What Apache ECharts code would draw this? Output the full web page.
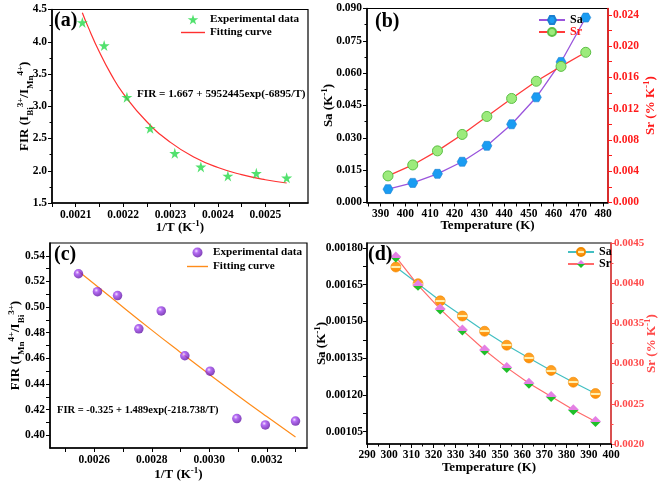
<!DOCTYPE html>
<html>
<head>
<meta charset="utf-8">
<script src="https://cdn.jsdelivr.net/npm/echarts@6/dist/echarts.min.js"></script>
<style>html,body{margin:0;padding:0;background:#fff}#c{width:661px;height:485px}</style>
</head>
<body>
<div id="c"></div>
<script>
// ---- Panel (a) data ----
const aX = [0.002114, 0.002160, 0.002208, 0.002257, 0.002309, 0.002364, 0.002421, 0.002481, 0.002545];
const aY = [4.30, 3.94, 3.14, 2.66, 2.27, 2.06, 1.92, 1.96, 1.89];
const aFitX = [0.002114, 0.002125, 0.00215, 0.002175, 0.0022, 0.00225, 0.0023, 0.00235, 0.0024, 0.00245, 0.0025, 0.002545];
const aFitY = [4.45, 4.25, 3.84, 3.49, 3.20, 2.76, 2.44, 2.21, 2.05, 1.94, 1.86, 1.81];
const aXTicks = [0.00205, 0.0021, 0.00215, 0.0022, 0.00225, 0.0023, 0.00235, 0.0024, 0.00245, 0.0025, 0.00255];
const aXLabels = [0.0021, 0.0022, 0.0023, 0.0024, 0.0025];
// ---- Panel (b) data ----
const bT = [393, 403, 413, 423, 433, 443, 453, 463, 473];
const bSa = [0.0062, 0.0091, 0.0133, 0.0189, 0.0263, 0.0363, 0.0488, 0.0652, 0.0858];
const bSr = [0.0034, 0.0048, 0.0066, 0.0087, 0.0110, 0.0133, 0.0155, 0.0174, 0.0192];
const bXTicks = [385, 390, 395, 400, 405, 410, 415, 420, 425, 430, 435, 440, 445, 450, 455, 460, 465, 470, 475, 480];
const bXLabels = [390, 400, 410, 420, 430, 440, 450, 460, 470, 480];
const bSrTicks = [0, 0.002, 0.004, 0.006, 0.008, 0.010, 0.012, 0.014, 0.016, 0.018, 0.020, 0.022, 0.024];
const bSrLabels = [0, 0.004, 0.008, 0.012, 0.016, 0.020, 0.024];
// ---- Panel (c) data ----
const cX = [0.002545, 0.002611, 0.002681, 0.002755, 0.002833, 0.002915, 0.003003, 0.003096, 0.003195, 0.0033];
const cY = [0.526, 0.512, 0.509, 0.483, 0.497, 0.462, 0.450, 0.413, 0.408, 0.411];
const cFitX = [0.002545, 0.00265, 0.0028, 0.0029, 0.003, 0.0031, 0.0032, 0.0033];
const cFitY = [0.528, 0.509, 0.482, 0.4646, 0.4475, 0.4308, 0.4145, 0.3985];
const cXTicks = [0.0025, 0.0026, 0.0027, 0.0028, 0.0029, 0.0030, 0.0031, 0.0032, 0.0033];
const cXLabels = [0.0026, 0.0028, 0.0030, 0.0032];
const cYTicks = [0.40, 0.41, 0.42, 0.43, 0.44, 0.45, 0.46, 0.47, 0.48, 0.49, 0.50, 0.51, 0.52, 0.53, 0.54];
const cYLabels = [0.40, 0.42, 0.44, 0.46, 0.48, 0.50, 0.52, 0.54];
// ---- Panel (d) data ----
const dT = [303, 313, 323, 333, 343, 353, 363, 373, 383, 393];
const dSa = [0.001722, 0.001654, 0.001584, 0.001522, 0.001460, 0.001403, 0.001351, 0.001300, 0.001252, 0.001206];
const dSr = [0.004326, 0.003975, 0.003678, 0.003417, 0.003169, 0.002950, 0.002756, 0.002591, 0.002426, 0.002281];
const dSaTicks = [0.00105, 0.001125, 0.0012, 0.001275, 0.00135, 0.001425, 0.0015, 0.001575, 0.00165, 0.001725, 0.0018];
const dSaLabels = [0.00105, 0.0012, 0.00135, 0.0015, 0.00165, 0.0018];

const FONT = '"Liberation Serif", "Times New Roman", serif';
const pair = (xs, ys) => xs.map((x, i) => [x, ys[i]]);

const titleRich = (color) => ({
  t: {fontFamily: FONT, fontWeight: 'bold', fontSize: 13, color: color, lineHeight: 20, verticalAlign: 'middle'},
  sup: {fontFamily: FONT, fontWeight: 'bold', fontSize: 9, color: color, lineHeight: 20, verticalAlign: 'top', padding: [1, 0, 0, 0]},
  sub: {fontFamily: FONT, fontWeight: 'bold', fontSize: 9, color: color, lineHeight: 20, verticalAlign: 'bottom'}
});

function axisBase(color) {
  return {
    axisLine: {show: true, onZero: false, lineStyle: {color: color, width: 1.5}},
    axisTick: {show: true, inside: false, length: 4, lineStyle: {color: color, width: 1}},
    axisLabel: {color: color, fontFamily: FONT, fontWeight: 'bold', fontSize: 11.5, margin: 5},
    splitLine: {show: false},
    nameMoveOverlap: false,
    nameTextStyle: {rich: titleRich(color)}
  };
}
function mk(base, extra) {
  const o = JSON.parse(JSON.stringify(base));
  for (const k in extra) {
    if (o[k] && typeof o[k] === 'object' && !Array.isArray(o[k]) && typeof extra[k] === 'object' && !Array.isArray(extra[k])) {
      o[k] = Object.assign(o[k], extra[k]);
    } else o[k] = extra[k];
  }
  return o;
}
const fmt = (d) => (v) => Number(v).toFixed(d);

const star = 'path://M50,0 L61,35 L98,35 L68,57 L79,91 L50,70 L21,91 L32,57 L2,35 L39,35 Z';
const hexagon = 'path://M25,0 L75,0 L100,43 L75,86 L25,86 L0,43 Z';
const lineIcon = 'path://M0,0 L0,0 M0,4.3 L24,4.3 L24,5.7 L0,5.7 Z M0,10 L0,10';
const lineIconC = 'path://M0,0 L0,0 M0,4.3 L21,4.3 L21,5.7 L0,5.7 Z M0,10 L0,10';

const sphere = {type: 'radial', x: 0.38, y: 0.35, r: 0.7, colorStops: [
  {offset: 0, color: '#f3dcff'}, {offset: 0.3, color: '#a348f2'}, {offset: 1, color: '#5b0f9e'}]};
const orangeBand = {type: 'linear', x: 0, y: 0, x2: 0, y2: 1, colorStops: [
  {offset: 0, color: '#ff9a1a'}, {offset: 0.42, color: '#ffa52a'}, {offset: 0.42, color: '#fff0b0'},
  {offset: 0.6, color: '#fff0b0'}, {offset: 0.6, color: '#ff9a1a'}, {offset: 1, color: '#ff8c00'}]};
const pinkGreen = {type: 'linear', x: 0, y: 0, x2: 0, y2: 1, colorStops: [
  {offset: 0, color: '#e480e4'}, {offset: 0.55, color: '#e480e4'}, {offset: 0.55, color: '#1fbf2a'}, {offset: 1, color: '#1fbf2a'}]};

const K = '#000';
const RED = '#ff1a1a';
const RED2 = '#ff4a4a';

const grids = [
  {left: 52, top: 9.5, width: 256, height: 193.5},
  {left: 367, top: 8.5, width: 241, height: 194},
  {left: 50, top: 243, width: 257, height: 205},
  {left: 367, top: 243, width: 244, height: 201}
].map(g => Object.assign(g, {show: true, borderColor: '#000', borderWidth: 1.2, backgroundColor: 'transparent',
  containLabel: false, outerBoundsMode: 'none'}));

const xAxes = [
  mk(axisBase(K), {type: 'value', gridIndex: 0, min: 0.00205, max: 0.00259,
    axisTick: {show: true, length: 4, customValues: aXTicks, lineStyle: {color: K}},
    axisLabel: {color: K, fontFamily: FONT, fontWeight: 'bold', fontSize: 11.5, margin: 6, customValues: aXLabels, formatter: fmt(4)},
    name: '{t|1/T (K}{sup|-1}{t|)}', nameLocation: 'middle', nameGap: 15}),
  mk(axisBase(K), {type: 'value', gridIndex: 1, min: 384.5, max: 482,
    axisTick: {show: true, length: 4, customValues: bXTicks, lineStyle: {color: K}},
    axisLabel: {color: K, fontFamily: FONT, fontWeight: 'bold', fontSize: 11.5, margin: 6, customValues: bXLabels},
    name: '{t|Temperature (K)}', nameLocation: 'middle', nameGap: 13.5}),
  mk(axisBase(K), {type: 'value', gridIndex: 2, min: 0.002446, max: 0.00334,
    axisTick: {show: true, length: 4, customValues: cXTicks, lineStyle: {color: K}},
    axisLabel: {color: K, fontFamily: FONT, fontWeight: 'bold', fontSize: 11.5, margin: 6, customValues: cXLabels, formatter: fmt(4)},
    name: '{t|1/T (K}{sup|-1}{t|)}', nameLocation: 'middle', nameGap: 17}),
  mk(axisBase(K), {type: 'value', gridIndex: 3, min: 290, max: 400, interval: 10,
    minorTick: {show: true, splitNumber: 2, length: 2.5, lineStyle: {color: K}},
    name: '{t|Temperature (K)}', nameLocation: 'middle', nameGap: 14})
];

const yAxes = [
  mk(axisBase(K), {type: 'value', gridIndex: 0, min: 1.5, max: 4.5, interval: 0.5,
    minorTick: {show: true, splitNumber: 2, length: 2.5, lineStyle: {color: K}},
    axisLabel: {color: K, fontFamily: FONT, fontWeight: 'bold', fontSize: 11.5, margin: 5, formatter: fmt(1)},
    name: '{t|FIR (I}{sub|Bi}{sup|3+}{t|/I}{sub|Mn}{sup|4+}{t|)}', nameLocation: 'middle', nameRotate: 90, nameGap: 17}),
  mk(axisBase(K), {type: 'value', gridIndex: 1, min: 0, max: 0.09, interval: 0.015,
    minorTick: {show: true, splitNumber: 2, length: 2.5, lineStyle: {color: K}},
    axisLabel: {color: K, fontFamily: FONT, fontWeight: 'bold', fontSize: 11.5, margin: 5, formatter: fmt(3)},
    name: '{t|Sa (K}{sup|-1}{t|)}', nameLocation: 'middle', nameRotate: 90, nameGap: 28}),
  mk(axisBase(RED), {type: 'value', gridIndex: 1, position: 'right', min: 0, max: 0.0248,
    axisTick: {show: true, length: 4, customValues: bSrTicks, lineStyle: {color: RED}},
    axisLabel: {color: RED, fontFamily: FONT, fontWeight: 'bold', fontSize: 11.5, margin: 5, customValues: bSrLabels, formatter: fmt(3)},
    name: '{t|Sr (% K}{sup|-1}{t|)}', nameLocation: 'middle', nameRotate: 90, nameGap: 33}),
  mk(axisBase(K), {type: 'value', gridIndex: 2, min: 0.39, max: 0.55,
    axisTick: {show: true, length: 4, customValues: cYTicks, lineStyle: {color: K}},
    axisLabel: {color: K, fontFamily: FONT, fontWeight: 'bold', fontSize: 11.5, margin: 5, customValues: cYLabels, formatter: fmt(2)},
    name: '{t|FIR (I}{sub|Mn}{sup|4+}{t|/I}{sub|Bi}{sup|3+}{t|)}', nameLocation: 'middle', nameRotate: 90, nameGap: 24}),
  mk(axisBase(K), {type: 'value', gridIndex: 3, min: 0.001, max: 0.00182,
    axisTick: {show: true, length: 4, customValues: dSaTicks, lineStyle: {color: K}},
    axisLabel: {color: K, fontFamily: FONT, fontWeight: 'bold', fontSize: 11.5, margin: 4, customValues: dSaLabels, formatter: fmt(5)},
    name: '{t|Sa (K}{sup|-1}{t|)}', nameLocation: 'middle', nameRotate: 90, nameGap: 35}),
  mk(axisBase(RED2), {type: 'value', gridIndex: 3, position: 'right', min: 0.002, max: 0.0045, interval: 0.0005,
    minorTick: {show: true, splitNumber: 2, length: 2.5, lineStyle: {color: RED2}},
    axisLabel: {color: RED2, fontFamily: FONT, fontWeight: 'bold', fontSize: 11, margin: 3, formatter: fmt(4)},
    name: '{t|Sr (% K}{sup|-1}{t|)}', nameLocation: 'middle', nameRotate: 90, nameGap: 31})
];

const series = [
  {name: 'a|Experimental data', type: 'scatter', xAxisIndex: 0, yAxisIndex: 0, symbol: star, symbolSize: 11,
    itemStyle: {color: '#27d94a'}, data: pair(aX, aY), z: 3},
  {name: 'a|Fitting curve', type: 'line', xAxisIndex: 0, yAxisIndex: 0, smooth: true, showSymbol: false, symbol: 'none',
    lineStyle: {color: '#ff3030', width: 1.2}, itemStyle: {color: '#ff3030'}, data: pair(aFitX, aFitY), z: 2},
  {name: 'b|Sa', type: 'line', xAxisIndex: 1, yAxisIndex: 1, symbol: hexagon, symbolSize: [10, 9],
    lineStyle: {color: '#9a55dc', width: 1.3}, itemStyle: {color: '#1a9cf2', borderColor: '#1a7fd0', borderWidth: 0.6}, data: pair(bT, bSa)},
  {name: 'b|Sr', type: 'line', xAxisIndex: 1, yAxisIndex: 2, symbol: 'circle', symbolSize: 10,
    lineStyle: {color: '#ff3b3b', width: 1.3}, itemStyle: {color: '#9ceb7c', borderColor: '#5cbf45', borderWidth: 1}, data: pair(bT, bSr)},
  {name: 'c|Experimental data', type: 'scatter', xAxisIndex: 2, yAxisIndex: 3, symbol: 'circle', symbolSize: 9.5,
    itemStyle: {color: sphere}, data: pair(cX, cY), z: 3},
  {name: 'c|Fitting curve', type: 'line', xAxisIndex: 2, yAxisIndex: 3, smooth: true, showSymbol: false, symbol: 'none',
    lineStyle: {color: '#ff8c1a', width: 1.2}, itemStyle: {color: '#ff8c1a'}, data: pair(cFitX, cFitY), z: 2},
  {name: 'd|Sa', type: 'line', xAxisIndex: 3, yAxisIndex: 4, symbol: 'circle', symbolSize: 10,
    lineStyle: {color: '#43bfc2', width: 1.2}, itemStyle: {color: orangeBand, borderColor: '#f08a00', borderWidth: 0.6}, data: pair(dT, dSa)},
  {name: 'd|Sr', type: 'line', xAxisIndex: 3, yAxisIndex: 5, symbol: 'diamond', symbolSize: [11, 11],
    lineStyle: {color: '#ff6a6a', width: 1.2}, itemStyle: {color: pinkGreen}, data: pair(dT, dSr)}
];

const legTextAC = {fontFamily: FONT, fontWeight: 'bold', fontSize: 11.2, color: '#000', lineHeight: 13};
const legTextBD = {fontFamily: FONT, fontWeight: 'bold', fontSize: 12, color: '#000', lineHeight: 12};
const legFmt = (n) => n.split('|')[1];
const legends = [
  {left: 181, top: 13, orient: 'vertical', itemGap: 0, itemWidth: 24, itemHeight: 10, padding: 0, textStyle: legTextAC, formatter: legFmt,
    data: ['a|Experimental data', {name: 'a|Fitting curve', icon: lineIcon, itemStyle: {color: '#ff3030'}}], selectedMode: false},
  {left: 538, top: 14, orient: 'vertical', itemGap: 0, itemWidth: 26, itemHeight: 10, padding: 0, textStyle: legTextBD, formatter: legFmt,
    data: ['b|Sa', {name: 'b|Sr', textStyle: {color: RED}}], selectedMode: false},
  {left: 187, top: 246, orient: 'vertical', itemGap: 1, itemWidth: 21, itemHeight: 10, padding: 0, textStyle: legTextAC, formatter: legFmt,
    data: ['c|Experimental data', {name: 'c|Fitting curve', icon: lineIconC, itemStyle: {color: '#ff8c1a'}}], selectedMode: false},
  {left: 567, top: 246, orient: 'vertical', itemGap: 0, itemWidth: 26, itemHeight: 10, padding: 0, textStyle: legTextBD, formatter: legFmt,
    data: ['d|Sa', 'd|Sr'], selectedMode: false}
];

const gtext = (x, y, text, size) => ({type: 'text', left: x, top: y, z: 100,
  style: {text: text, fontFamily: FONT, fontWeight: 'bold', fontSize: size, fill: '#000'}});

const graphic = [
  gtext(54, 11, '(a)', 20),
  gtext(375, 12, '(b)', 20),
  gtext(54, 245, '(c)', 20),
  gtext(368, 245, '(d)', 20),
  gtext(137, 89, 'FIR = 1.667 + 5952445exp(-6895/T)', 11.2),
  gtext(57, 405, 'FIR = -0.325 + 1.489exp(-218.738/T)', 10.5)
];

const chart = echarts.init(document.getElementById('c'), null, {renderer: 'canvas'});
chart.setOption({
  animation: false,
  backgroundColor: '#fff',
  grid: grids,
  xAxis: xAxes,
  yAxis: yAxes,
  legend: legends,
  series: series,
  graphic: graphic
});
</script>
</body>
</html>
